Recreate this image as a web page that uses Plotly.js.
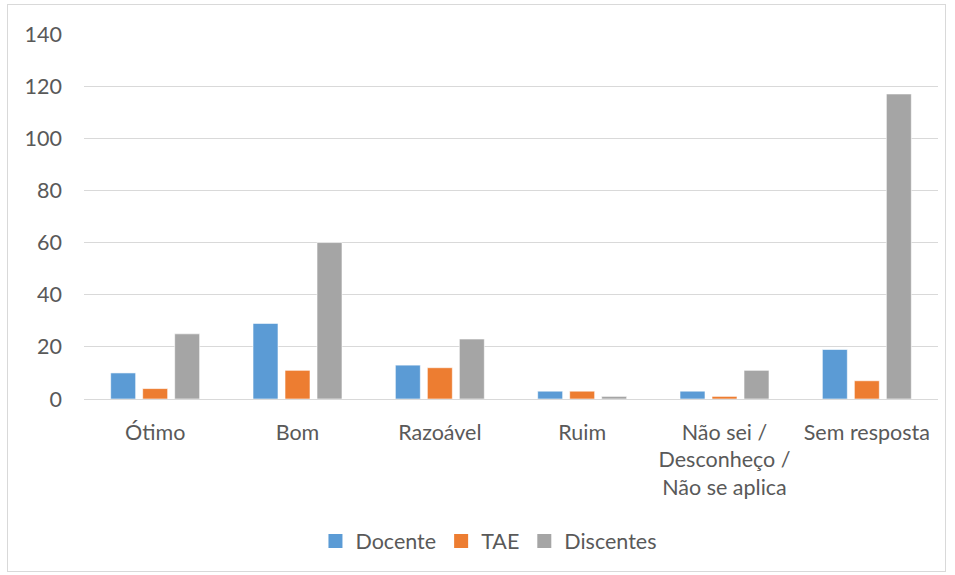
<!DOCTYPE html>
<html>
<head>
<meta charset="utf-8">
<script src="https://cdn.plot.ly/plotly-3.0.1.min.js"></script>
<style>
html,body{margin:0;padding:0;background:#fff;}
#frame{position:absolute;left:7px;top:4px;width:939px;height:568px;border:1px solid #d9d9d9;box-sizing:border-box;}
#chart{position:absolute;left:0;top:0;width:955px;height:575px;}
</style>
</head>
<body>
<div id="frame"></div>
<div id="chart"></div>
<script>
const categories = ["Ótimo", "Bom", "Razoável", "Ruim", "Não sei /<br>Desconheço /<br>Não se aplica", "Sem resposta"];
const docente = [10, 29, 13, 3, 3, 19];
const tae = [4, 11, 12, 3, 1, 7];
const discentes = [25, 60, 23, 1, 11, 117];
const seriesNames = ["Docente", "TAE", "Discentes"];
const colors = ["#5b9bd5", "#ed7d31", "#a5a5a5"];
const yTicks = [0, 20, 40, 60, 80, 100, 120, 140];

const font = "Lato, 'Open Sans', 'Liberation Sans', sans-serif";
const fsize = 21.5;
const bars = [docente, tae, discentes].map((vals, i) => ({
  type: "bar",
  name: seriesNames[i],
  x: categories,
  y: vals,
  legendgroup: seriesNames[i],
  showlegend: false,
  marker: {color: colors[i], line: {color: "rgba(255,255,255,0.6)", width: 1}},
  hoverinfo: "none"
}));
// legend-only entries with larger square swatches (no plotted points)
const legendEntries = seriesNames.map((name, i) => ({
  type: "scatter", mode: "markers",
  name: name, legendgroup: name,
  x: [null], y: [null],
  marker: {symbol: "square", size: 14, color: colors[i]},
  hoverinfo: "none"
}));

const layout = {
  width: 955, height: 575,
  paper_bgcolor: "rgba(0,0,0,0)",
  plot_bgcolor: "rgba(0,0,0,0)",
  margin: {l: 84, r: 17, t: 33.5, b: 175.5},
  barmode: "group",
  bargap: 0.3255,
  bargroupgap: 0.219,
  font: {family: font, size: fsize, color: "#595959"},
  xaxis: {
    automargin: false,
    showgrid: false, showline: false, zeroline: false,
    ticks: "", tickfont: {family: font, size: fsize, color: "#595959"},
    ticklabelstandoff: 18
  },
  yaxis: {
    automargin: false,
    range: [0, 140], tickvals: yTicks, ticktext: yTicks.map(String),
    showgrid: true, gridcolor: "#d9d9d9", gridwidth: 1,
    zeroline: true, zerolinecolor: "#d9d9d9", zerolinewidth: 1,
    showline: false, ticks: "",
    tickfont: {family: font, size: fsize, color: "#595959"},
    ticklabelstandoff: 21
  },
  legend: {
    orientation: "h", x: 0.512, xref: "container", xanchor: "center",
    y: 34/575, yref: "container", yanchor: "middle",
    font: {family: font, size: fsize, color: "#595959"},
    itemwidth: 30, traceorder: "normal", tracegroupgap: 0
  },
  showlegend: true
};

Plotly.newPlot("chart", bars.concat(legendEntries), layout, {displayModeBar: false, staticPlot: true});
</script>
</body>
</html>
